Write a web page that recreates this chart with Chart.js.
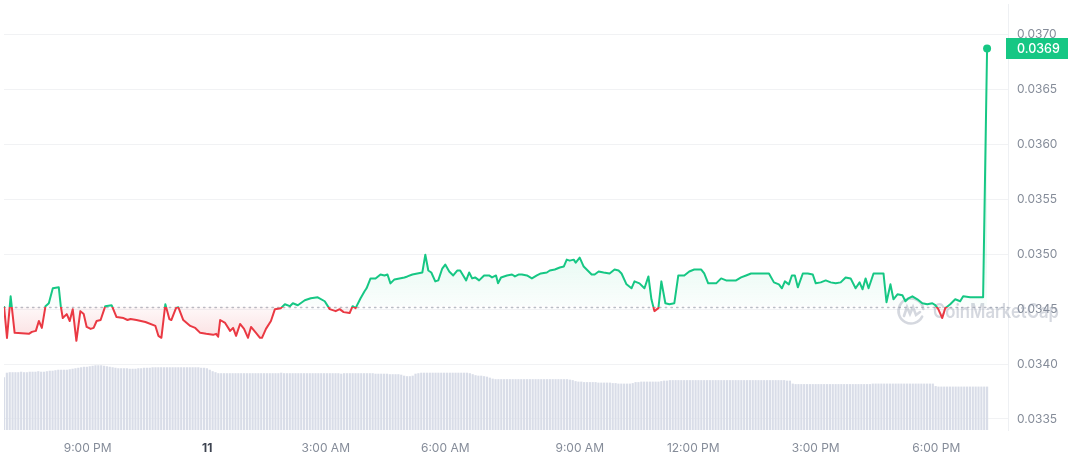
<!DOCTYPE html>
<html><head><meta charset="utf-8">
<script src="https://cdn.jsdelivr.net/npm/chart.js@4.4.1/dist/chart.umd.min.js"></script>
<style>html,body{margin:0;padding:0;background:#fff;}canvas{display:block}</style>
</head><body>
<canvas id="c" width="1068" height="460"></canvas>
<script>
// ---- data ----
// time: minutes since 18:54 on the 10th
const priceTime = [
  0, 4.5, 10, 16, 37.5, 42, 48, 52.5, 57, 62.5,
  67.5, 73.5, 82.5, 85.5, 88.5, 94.5, 99, 103.5, 109, 115,
  120, 124.5, 130.5, 135, 139.5, 145.5, 152.5, 162, 169.5, 180,
  186, 190.5, 199.5, 213, 228, 232.5, 237, 243, 249, 252,
  259, 262.5, 270, 280.5, 288, 295.5, 304.5, 315, 319.5, 322.5,
  325.5, 333, 340.5, 345, 349.5, 355.5, 361.5, 367.5, 372, 379.5,
  385.5, 388.5, 394.5, 402, 408, 417, 423, 430.5, 435, 442.5,
  453, 462, 472.5, 483, 490.5, 499.5, 505.5, 511.5, 520.5, 525,
  529.5, 537, 543, 546, 552, 559.5, 567, 573, 577.5, 582,
  588, 595.5, 603, 607.5, 615, 622.5, 630, 634.5, 639, 643.5,
  649.5, 654, 660, 664.5, 670.5, 676.5, 682.5, 687, 691.5, 696,
  700.5, 705, 709.5, 715.5, 723, 730.5, 735, 741, 744, 748.5,
  757.5, 765, 769.5, 775.5, 780, 787.5, 795, 802.5, 808.5, 817.5,
  822, 829.5, 837, 843, 847.5, 852, 858, 861, 867, 873,
  880.5, 885, 889.5, 895.5, 903, 912, 919.5, 925.5, 930, 937.5,
  945, 949.5, 957, 964.5, 970.5, 975, 979.5, 985.5, 990, 996,
  1002, 1009.5, 1015.5, 1024.5, 1032, 1039.5, 1050, 1054.5, 1060.5, 1072.5,
  1080, 1087.5, 1102.5, 1110, 1117.5, 1125, 1140, 1152, 1159.5, 1167,
  1171.5, 1176, 1182, 1186.5, 1191, 1195.5, 1203, 1210.5, 1218, 1222.5,
  1230, 1237.5, 1245, 1252.5, 1260, 1267.5, 1275, 1282.5, 1288.5, 1293,
  1297.5, 1302, 1309.5, 1324.5, 1329, 1335, 1339.5, 1345.5, 1353, 1357.5,
  1362, 1368, 1375.5, 1383, 1390.5, 1398, 1402.5, 1407, 1413, 1417.5,
  1425, 1432.5, 1440, 1444.5, 1455, 1467, 1474.5, 1480.5
];
const priceValue = [
  0.034527, 0.034238, 0.034617, 0.034284, 0.034275, 0.034293, 0.034302, 0.034392, 0.034329, 0.034527,
  0.034554, 0.034690, 0.034699, 0.034527, 0.034419, 0.034455, 0.034392, 0.034500, 0.034212, 0.034482,
  0.034455, 0.034338, 0.034320, 0.034329, 0.034392, 0.034401, 0.034527, 0.034536, 0.034428, 0.034419,
  0.034401, 0.034410, 0.034401, 0.034383, 0.034347, 0.034257, 0.034239, 0.034545, 0.034410, 0.034401,
  0.034509, 0.034518, 0.034401, 0.034347, 0.034329, 0.034284, 0.034275, 0.034266, 0.034275, 0.034248,
  0.034401, 0.034374, 0.034302, 0.034329, 0.034257, 0.034365, 0.034320, 0.034239, 0.034338, 0.034284,
  0.034239, 0.034239, 0.034320, 0.034392, 0.034500, 0.034509, 0.034545, 0.034527, 0.034554, 0.034536,
  0.034581, 0.034599, 0.034608, 0.034572, 0.034500, 0.034482, 0.034500, 0.034473, 0.034464, 0.034527,
  0.034509, 0.034599, 0.034663, 0.034690, 0.034780, 0.034780, 0.034816, 0.034807, 0.034816, 0.034735,
  0.034771, 0.034780, 0.034789, 0.034798, 0.034816, 0.034825, 0.034834, 0.034996, 0.034852, 0.034834,
  0.034753, 0.034762, 0.034870, 0.034906, 0.034843, 0.034807, 0.034852, 0.034852, 0.034807, 0.034762,
  0.034834, 0.034780, 0.034789, 0.034762, 0.034807, 0.034807, 0.034789, 0.034807, 0.034735, 0.034789,
  0.034807, 0.034816, 0.034798, 0.034816, 0.034816, 0.034807, 0.034780, 0.034807, 0.034825, 0.034834,
  0.034852, 0.034861, 0.034879, 0.034888, 0.034951, 0.034942, 0.034951, 0.034924, 0.034969, 0.034888,
  0.034843, 0.034816, 0.034816, 0.034843, 0.034834, 0.034825, 0.034861, 0.034852, 0.034825, 0.034726,
  0.034690, 0.034753, 0.034735, 0.034690, 0.034798, 0.034590, 0.034482, 0.034509, 0.034753, 0.034554,
  0.034545, 0.034554, 0.034807, 0.034807, 0.034843, 0.034861, 0.034861, 0.034825, 0.034735, 0.034735,
  0.034780, 0.034762, 0.034762, 0.034789, 0.034807, 0.034825, 0.034825, 0.034825, 0.034744, 0.034726,
  0.034690, 0.034753, 0.034726, 0.034807, 0.034807, 0.034699, 0.034825, 0.034825, 0.034816, 0.034735,
  0.034744, 0.034762, 0.034744, 0.034735, 0.034744, 0.034789, 0.034780, 0.034690, 0.034744, 0.034681,
  0.034780, 0.034690, 0.034825, 0.034825, 0.034563, 0.034726, 0.034590, 0.034635, 0.034626, 0.034572,
  0.034599, 0.034617, 0.034590, 0.034554, 0.034545, 0.034554, 0.034536, 0.034500, 0.034419, 0.034509,
  0.034545, 0.034590, 0.034572, 0.034617, 0.034608, 0.034608, 0.034608, 0.036874
];
const openPrice = 0.034523;          // dotted reference line
// volume (millions) per bar, bars every volStepMin minutes from time 0
const volStepMin = 4.3038;
const volume = [
  1.06,
  1.15,1.16,1.16,1.16,1.16,1.17,1.16,1.16,
  1.17,1.17,1.17,1.18,1.17,1.17,1.18,
  1.19,1.19,1.20,1.21,1.21,1.21,1.21,1.22,1.23,
  1.24,1.25,1.26,1.27,1.27,1.28,1.29,1.30,1.30,1.30,1.29,1.28,1.27,1.26,
  1.25,1.24,1.24,1.24,1.24,1.23,1.23,1.23,1.24,1.24,
  1.25,1.25,1.25,1.26,1.26,1.26,1.26,1.26,1.26,1.26,1.26,1.26,1.26,1.26,1.26,1.26,1.26,1.26,1.26,1.26,1.25,1.25,1.24,
  1.21,1.18,1.16,
  1.14,1.14,1.14,1.14,1.14,1.14,1.14,1.14,1.14,1.14,
  1.14,1.14,1.14,1.14,1.14,1.14,1.14,1.14,1.14,1.14,
  1.14,1.14,1.15,1.14,1.14,1.14,1.14,1.14,1.14,1.14,
  1.14,1.14,1.14,1.14,1.14,1.14,1.14,1.14,1.14,1.14,
  1.14,1.14,1.14,1.13,1.14,1.14,1.14,1.14,1.14,1.14,
  1.14,1.14,1.14,1.14,1.14,1.13,1.13,1.13,1.13,1.13,
  1.12,1.12,1.12,1.12,1.11,
  1.09,1.08,1.08,1.09,
  1.13,1.14,1.15,1.15,1.15,1.15,1.15,1.15,1.15,1.15,1.15,1.15,1.15,1.15,1.15,1.15,1.15,1.15,1.15,1.14,
  1.12,1.10,1.09,1.09,1.08,1.07,1.05,
  1.03,1.02,1.02,1.02,1.02,1.02,1.02,1.02,1.02,1.02,
  1.02,1.02,1.02,1.02,1.02,1.02,1.02,1.02,1.02,1.02,
  1.02,1.02,1.02,1.02,1.02,1.02,1.02,1.01,1.00,
  0.98,0.97,0.97,0.96,0.96,0.96,0.96,0.96,0.95,0.95,0.95,0.95,0.95,0.94,0.94,
  0.93,0.93,0.93,0.93,0.93,0.94,
  0.96,0.96,0.97,0.97,0.97,0.97,0.97,0.97,0.97,0.98,0.99,0.99,
  1.00,1.00,1.00,1.00,1.00,1.00,1.00,1.00,1.00,1.00,
  1.00,1.00,1.00,1.00,1.00,1.00,1.00,1.00,1.00,1.00,
  1.00,1.00,1.00,1.00,1.00,1.00,1.00,1.00,1.00,1.00,
  1.00,1.00,1.00,1.00,1.00,1.00,1.00,1.00,1.00,1.00,
  1.00,0.99,0.99,
  0.93,0.92,0.92,0.92,0.92,0.92,0.92,0.92,0.92,0.92,
  0.92,0.92,0.92,0.92,0.92,0.92,0.92,0.92,0.92,0.92,
  0.92,0.92,0.92,0.92,0.92,0.92,0.92,0.92,
  0.93,0.93,0.93,0.93,0.93,0.93,0.93,0.93,0.93,0.93,0.93,
  0.93,0.93,0.93,0.93,0.93,0.93,0.93,0.93,0.93,0.93,0.93,
  0.88,0.87,0.87,0.87,0.87,0.87,0.87,0.87,0.87,0.87,
  0.87,0.87,0.87,0.87,0.87,0.87,0.87,0.87,0.87
];
const yTicks = [0.0335, 0.0340, 0.0345, 0.0350, 0.0355, 0.0360, 0.0365, 0.0370];
const xTickTime = [126, 306, 484.5, 664.5, 867, 1038, 1222.5, 1404];
const xTickLabels = ['9:00 PM', '11', '3:00 AM', '6:00 AM', '9:00 AM', '12:00 PM', '3:00 PM', '6:00 PM'];

// ---- styles ----
const GREEN = '#16c784', RED = '#ea3943';
const FONT = 'Inter, "Noto Sans", sans-serif';

const lastIdx = priceValue.length - 1;
const priceData = priceTime.map((t, i) => ({x: t, y: priceValue[i]}));
const volData = volume.map((v, i) => ({x: i * volStepMin, y: v}));

const decor = {
  id: 'decor',
  beforeDatasetsDraw(chart) {
    const {ctx, chartArea: a, scales: {y}} = chart;
    const yb = Math.round(y.getPixelForValue(openPrice)) + 0.5;
    ctx.save();
    // dotted reference line
    ctx.strokeStyle = '#b9bdc6';
    ctx.lineWidth = 1.3;
    ctx.setLineDash([1.5, 4.2]);
    ctx.lineCap = 'round';
    ctx.beginPath(); ctx.moveTo(a.left, yb); ctx.lineTo(a.right, yb); ctx.stroke();
    ctx.setLineDash([]);
    // watermark
    const wc = 'rgba(128,138,157,0.33)';
    ctx.strokeStyle = wc; ctx.lineWidth = 2.6;
    const cx = a.right - 97, cy = yb + 3.5;
    ctx.beginPath(); ctx.arc(cx, cy, 12.5, 0.15 * Math.PI, 1.95 * Math.PI); ctx.stroke();
    ctx.beginPath();
    ctx.moveTo(cx - 7, cy + 5); ctx.lineTo(cx - 4, cy - 4); ctx.lineTo(cx - 1, cy + 3);
    ctx.lineTo(cx + 2, cy - 4); ctx.lineTo(cx + 5, cy + 4); ctx.lineTo(cx + 9, cy + 1);
    ctx.stroke();
    ctx.fillStyle = wc;
    ctx.font = '600 20px ' + FONT;
    ctx.textBaseline = 'middle';
    ctx.textAlign = 'left';
    ctx.fillText('CoinMarketCap', a.right - 75, cy + 1, 126);
    ctx.restore();
  },
  afterDraw(chart) {
    const {ctx, chartArea: a, scales: {y}} = chart;
    const v = priceValue[lastIdx];
    const yp = y.getPixelForValue(v);
    ctx.save();
    ctx.fillStyle = GREEN;
    ctx.fillRect(a.right - 2, Math.round(yp - 10.5), chart.width - a.right + 2, 21);
    ctx.fillStyle = '#ffffff';
    ctx.font = '500 12.5px ' + FONT;
    ctx.textBaseline = 'middle';
    ctx.textAlign = 'left';
    ctx.fillText(v.toFixed(4), a.right + 9, yp + 0.5);
    ctx.restore();
  }
};

const chart = new Chart(document.getElementById('c'), {
  type: 'line',
  data: {
    datasets: [
      {
        type: 'line',
        data: priceData,
        yAxisID: 'y',
        borderColor: GREEN,
        borderWidth: 2,
        tension: 0,
        borderJoinStyle: 'round',
        pointRadius: ctx => ctx.dataIndex === lastIdx ? 4 : 0,
        pointBackgroundColor: GREEN,
        pointBorderWidth: 0,
        fill: false,
        order: 1
      },
      {
        type: 'bar',
        data: volData,
        yAxisID: 'yv',
        backgroundColor: '#d9dde8',
        borderWidth: 0,
        barThickness: 1.5,
        grouped: false,
        order: 2
      }
    ]
  },
  options: {
    responsive: false,
    devicePixelRatio: 1,
    animation: false,
    events: [],
    layout: {padding: {top: 0, left: 0, right: 0, bottom: 0}},
    plugins: {legend: {display: false}, tooltip: {enabled: false}},
    scales: {
      x: {
        type: 'linear',
        min: 0, max: 1512,
        offset: false,
        grid: {display: false, drawTicks: false},
        border: {display: false},
        afterBuildTicks: axis => { axis.ticks = xTickTime.map(v => ({value: v})); },
        afterFit: axis => { axis.height = 30; axis.paddingLeft = 0; axis.paddingRight = 0; },
        ticks: {
          autoSkip: false, maxRotation: 0, padding: 11,
          callback: (v, i) => xTickLabels[i],
          color: ctx => ctx.index === 1 ? '#3d4350' : '#858c99',
          font: ctx => ({family: FONT, size: 12, weight: ctx.index === 1 ? '700' : '400'})
        }
      },
      y: {
        type: 'linear',
        position: 'right',
        min: 0.033399, max: 0.037280,
        grid: {color: '#f1f2f4', drawTicks: false, lineWidth: 1},
        border: {display: true, color: '#eef0f3'},
        afterBuildTicks: axis => { axis.ticks = yTicks.map(v => ({value: v})); },
        afterFit: axis => { axis.width = 60; axis.paddingTop = 0; axis.paddingBottom = 0; },
        ticks: {
          padding: 9,
          color: '#858c99',
          font: {family: FONT, size: 12},
          callback: v => Number(v).toFixed(4)
        }
      },
      yv: {
        type: 'linear',
        display: false,
        min: 0, max: 8.6
      }
    }
  },
  plugins: [decor]
});

// colour the line and its fill relative to the opening price
(function () {
  const {ctx, chartArea: a, scales: {y}} = chart;
  const yb = y.getPixelForValue(openPrice);
  const f = Math.min(1, Math.max(0, (yb - a.top) / (a.bottom - a.top)));
  const lg = ctx.createLinearGradient(0, a.top, 0, a.bottom);
  lg.addColorStop(0, GREEN); lg.addColorStop(f, GREEN);
  lg.addColorStop(f, RED); lg.addColorStop(1, RED);
  const yHi = y.getPixelForValue(0.0350);
  const above = ctx.createLinearGradient(0, yHi, 0, yb);
  above.addColorStop(0, 'rgba(22,199,132,0.10)');
  above.addColorStop(1, 'rgba(22,199,132,0.02)');
  const yLo = y.getPixelForValue(0.0342);
  const below = ctx.createLinearGradient(0, yb, 0, yLo);
  below.addColorStop(0, 'rgba(234,57,67,0.03)');
  below.addColorStop(1, 'rgba(234,57,67,0.17)');
  const ds = chart.data.datasets[0];
  ds.borderColor = lg;
  ds.fill = {target: {value: openPrice}, above: above, below: below};
  chart.update();
})();
</script>
</body></html>
